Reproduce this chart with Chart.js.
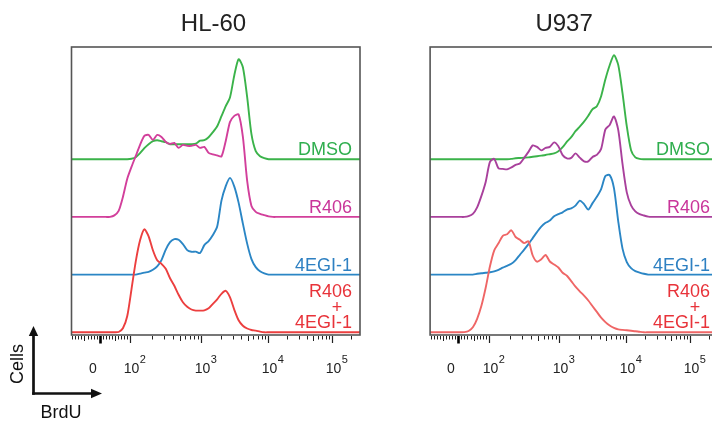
<!DOCTYPE html>
<html>
<head>
<meta charset="utf-8">
<title>BrdU histograms</title>
<script src="https://cdn.jsdelivr.net/npm/chart.js@4.4.1/dist/chart.umd.min.js"></script>
<style>
    html, body { margin: 0; padding: 0; background: #fff; }
    body { width: 712px; height: 423px; overflow: hidden; position: relative; font-family: "Liberation Sans", Arial, sans-serif; }
    .panel { position: absolute; top: 0; width: 370px; height: 423px; }
    #axis-key { position: absolute; left: 0; top: 0; }
</style>
</head>
<body>
<div class="panel" style="left:0px"><canvas id="hl60" width="370" height="423"></canvas></div>
<div class="panel" style="left:358px"><canvas id="u937" width="370" height="423"></canvas></div>
<svg id="axis-key" width="120" height="423">
    <g stroke="#111" stroke-width="2.7" fill="none">
        <line x1="33.5" y1="394.8" x2="33.5" y2="334"></line>
        <line x1="32.2" y1="393.5" x2="93" y2="393.5"></line>
    </g>
    <g fill="#111">
        <polygon points="28.8,336 38.2,336 33.5,326"></polygon>
        <polygon points="91,388.8 91,398.2 102,393.5"></polygon>
    </g>
    <text x="23" y="364" transform="rotate(-90 23 364)" text-anchor="middle" font-size="18" fill="#111">Cells</text>
    <text x="61" y="418" text-anchor="middle" font-size="18" fill="#111">BrdU</text>
</svg>
<script>
// display channel of each histogram bin
const channels = [
    0, 90, 105, 120, 135, 150, 165, 180, 195, 210,
    225, 240, 255, 270, 285, 300, 315, 330, 345, 360,
    375, 390, 405, 420, 435, 450, 465, 480, 495, 510,
    525, 540, 555, 570, 585, 600, 615, 630, 645, 660,
    675, 690, 705, 720, 735, 750, 765, 780, 795, 810, 1010
];

// cells per bin, % of mode
const hl60Dmso = [
    0, 0, 0, 0, 0, 0, 0, 0, 0, 0.5,
    2, 6, 11, 15, 18, 19, 18, 17, 15, 15,
    15, 15, 15, 15, 15.5, 18.5, 19, 22, 27, 33,
    43, 53, 62, 84, 100, 92, 62, 25, 8, 3,
    1, 0, 0, 0, 0, 0, 0, 0, 0, 0, 0
];
const hl60R406 = [
    0, 0, 0, 0, 0, 1.5, 6, 20, 38, 50,
    61, 72, 81, 82, 77, 82, 80, 75, 73, 74,
    69, 72, 71, 71, 72, 69, 70, 64, 62.5, 61.5,
    60.5, 76, 95, 101, 102.5, 80, 36, 11, 5, 3,
    1.7, 0.5, 0, 0, 0, 0, 0, 0, 0, 0, 0
];
const hl60Egi = [
    0, 0, 0, 0, 0, 0, 0, 0, 0, 0,
    0, 1, 2, 2.8, 4.8, 8.2, 14.5, 25, 32.5, 35.5,
    34.8, 30.5, 24.5, 22.8, 23, 21.5, 29.5, 33.5, 39.5, 48,
    74, 88.5, 96.7, 88, 72, 51, 31, 15.5, 7.5, 3.3,
    1.2, 0, 0, 0, 0, 0, 0, 0, 0, 0, 0
];
const hl60Combo = [
    0, 0, 0, 0, 0, 0, 0.3, 4, 16, 43,
    71, 92, 103, 96, 82, 72, 68.5, 63.5, 54, 46.5,
    37.5, 30, 25.5, 22.8, 21.7, 21.7, 22, 24, 28.5, 33,
    38.5, 41.5, 35, 22.5, 12, 6.5, 3.8, 2.3, 1.7, 0.7,
    0, 0, 0, 0, 0, 0, 0, 0, 0, 0, 0
];

const u937Dmso = [
    0, 0, 0, 0, 0, 0, 0, 0, 0, 0,
    0, 0, 0, 0, 0.3, 1, 1.2, 1.5, 1.8, 2.4,
    3, 3.6, 4.2, 5, 5.8, 8, 12, 17.5, 22, 28,
    32.5, 37.5, 43.5, 50, 53, 63, 80, 94, 104, 94.3,
    66, 33, 9, 1.8, 0.3, 0, 0, 0, 0, 0, 0
];
const u937R406 = [
    0, 0, 0, 0, 0.8, 3, 9.5, 21, 35, 55,
    58, 48.5, 48, 47.5, 49.5, 52, 53.5, 59, 65, 71.5,
    70, 66.5, 69, 70, 74.5, 70.6, 61.8, 58.5, 59, 63.5,
    59.3, 55.6, 55.5, 60, 62, 68, 87.5, 92, 100.5, 87,
    53, 24.5, 11.5, 5.5, 2.8, 1.4, 0.3, 0, 0, 0, 0
];
const u937Egi = [
    0, 0, 0, 0, 0, 0, 0.8, 1.4, 1.8, 2.3,
    3.3, 4.8, 7, 8.8, 10.8, 14.5, 19.8, 25, 30.5, 36.5,
    42.5, 48, 51.8, 54, 58.3, 60.5, 62.3, 65, 66.2, 69,
    74, 70.5, 65, 71.5, 77.8, 85.5, 98.5, 99.5, 86.5, 53.3,
    26, 12.5, 6.5, 3.5, 2, 0.8, 0, 0, 0, 0, 0
];
const u937Combo = [
    0, 0, 0, 0.2, 1.3, 5, 13.5, 26.5, 44.5, 66,
    82, 89, 96.5, 98, 102, 95.3, 92.5, 89.2, 91, 76.8,
    70.6, 73, 77.3, 70.8, 67.8, 64.8, 59.5, 56.5, 51.2, 45.6,
    41, 36.6, 31.8, 26, 20.4, 14.6, 10.2, 6.8, 4.5, 3,
    2.4, 2, 1.5, 1.1, 0.5, 0, 0, 0, 0, 0, 0
];

const sampleNames = ['DMSO', 'R406', '4EGI-1', 'R406 + 4EGI-1'];
const tickBases = ['0', '10', '10', '10', '10'];
const tickExponents = ['', '2', '3', '4', '5'];
const tickValues = [0, 1e2, 1e3, 1e4, 1e5];

// biexponential-style display: linear around zero, log per decade above 100
const ZERO_CH = 99;
const DECADE_CH = { 2: 206, 3: 453, 4: 688, 5: 912, 6: 1136 };
function toChannel(v) {
    if (Math.abs(v) < 100) return ZERO_CH + v * (DECADE_CH[2] - ZERO_CH) / 100;
    const k = Math.floor(Math.log10(v) + 1e-9);
    const f = Math.log10(v) - k;
    return DECADE_CH[k] + f * (DECADE_CH[k + 1] - DECADE_CH[k]);
}

const STACK_STEP = 57.7;
const FONT = '"Liberation Sans", Arial, sans-serif';
const textColors = ['#2fae4e', '#c9359a', '#2e80c2', '#e8333a'];

function minorTicks() {
    const out = [];
    for (let v = -90; v <= 90; v += 10) {
        if (v !== 0) out.push({ v, len: v === 50 || v === -50 ? 5 : 3.5 });
    }
    for (let k = 2; k <= 5; k++) {
        for (let m = 2; m <= 9; m++) {
            const v = m * Math.pow(10, k);
            if (toChannel(v) > 1010) break;
            out.push({ v, len: m === 5 ? 5 : 3.5 });
        }
    }
    return out;
}

const panelDecor = {
    id: 'panelDecor',
    afterDraw(chart, args, opts) {
        const { ctx, chartArea: area, scales } = chart;
        const x = scales.x, y = scales.y;
        ctx.save();

        // frame
        ctx.strokeStyle = '#555';
        ctx.lineWidth = 1.6;
        ctx.strokeRect(area.left, area.top, area.right - area.left, area.bottom - area.top);

        // axis ticks below the frame
        const top = area.bottom + 1;
        ctx.strokeStyle = '#222';
        ctx.lineWidth = 1;
        minorTicks().forEach(t => {
            const px = Math.round(x.getPixelForValue(toChannel(t.v))) + 0.5;
            if (px < area.left || px > area.right) return;
            ctx.beginPath();
            ctx.moveTo(px, top);
            ctx.lineTo(px, top + t.len);
            ctx.stroke();
        });
        tickValues.forEach((v, i) => {
            const px = Math.round(x.getPixelForValue(toChannel(v))) + 0.5;
            ctx.lineWidth = i === 0 ? 2.6 : 1.2;
            ctx.strokeStyle = i === 0 ? '#000' : '#222';
            ctx.beginPath();
            ctx.moveTo(px, top);
            ctx.lineTo(px, top + (i === 0 ? 7.5 : 7));
            ctx.stroke();

            ctx.fillStyle = '#222';
            ctx.textBaseline = 'alphabetic';
            ctx.font = '14px ' + FONT;
            if (!tickExponents[i]) {
                ctx.textAlign = 'center';
                ctx.fillText(tickBases[i], px - 7.5, 373);
                return;
            }
            const w = ctx.measureText(tickBases[i]).width;
            ctx.textAlign = 'center';
            ctx.fillText(tickBases[i], px + 1, 373);
            ctx.font = '11px ' + FONT;
            ctx.textAlign = 'left';
            ctx.fillText(tickExponents[i], px + 1 + w / 2 + 0.5, 363);
        });

        // panel title
        ctx.fillStyle = '#222';
        ctx.font = '24px ' + FONT;
        ctx.textAlign = 'center';
        ctx.fillText(opts.title, area.left + opts.titleOffset, 30.5);

        // sample names, right aligned above each trace's baseline
        ctx.font = '18px ' + FONT;
        const right = area.right - 8;
        sampleNames.forEach((name, i) => {
            const base = y.getPixelForValue((3 - i) * STACK_STEP) - 4;
            ctx.fillStyle = textColors[i];
            const parts = name.split(' ');
            if (parts.length === 1) {
                ctx.textAlign = 'right';
                ctx.fillText(name, right, base);
                return;
            }
            ctx.textAlign = 'right';
            ctx.fillText(parts[2], right, base);
            ctx.textAlign = 'center';
            ctx.fillText(parts[1], right - 15, base - 15.8);
            ctx.textAlign = 'right';
            ctx.fillText(parts[0], right, base - 31.6);
        });
        ctx.restore();
    }
};

function makeDataset(values, level, color) {
    return {
        data: channels.map((c, i) => ({ x: c, y: level * STACK_STEP + values[i] })),
        borderColor: color,
        borderWidth: 1.9,
        pointRadius: 0,
        tension: 0.25,
        fill: false,
    };
}

function drawPanel(canvasId, title, titleOffset, padLeft, series, colors) {
    const datasets = [
        makeDataset(series[3], 0, colors[3]),
        makeDataset(series[1], 2, colors[1]),
        makeDataset(series[2], 1, colors[2]),
        makeDataset(series[0], 3, colors[0]),
    ];
    new Chart(document.getElementById(canvasId), {
        type: 'line',
        data: { datasets },
        options: {
            responsive: false,
            animation: false,
            events: [],
            layout: { padding: { left: padLeft, top: 47, right: 10, bottom: 88 } },
            scales: {
                x: { type: 'linear', display: false, min: 0, max: 1010 },
                y: { type: 'linear', display: false, min: -2.7, max: 285.3 },
            },
            plugins: {
                legend: { display: false },
                tooltip: { enabled: false },
                panelDecor: { title, titleOffset },
            },
        },
        plugins: [panelDecor],
    });
}

drawPanel('hl60', 'HL-60', 142, 71.5,
    [hl60Dmso, hl60R406, hl60Egi, hl60Combo],
    ['#3bb34a', '#d23f9b', '#2b86c5', '#ec3f3f']);

drawPanel('u937', 'U937', 134, 72.1,
    [u937Dmso, u937R406, u937Egi, u937Combo],
    ['#3bb34a', '#a9409c', '#2b86c5', '#ef6666']);
</script>
</body>
</html>
